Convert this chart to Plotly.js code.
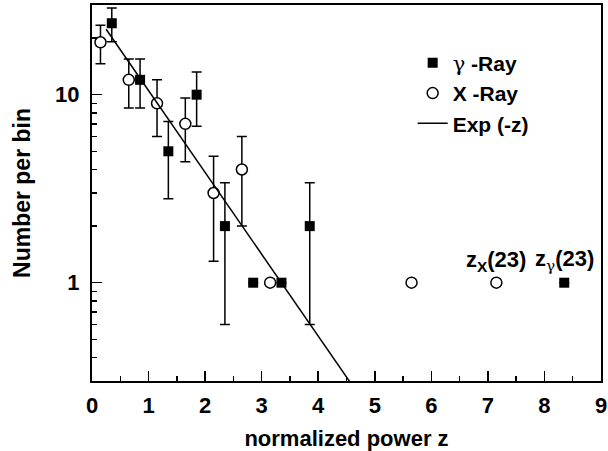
<!DOCTYPE html>
<html>
<head>
<meta charset="utf-8">
<script src="https://cdn.plot.ly/plotly-3.0.1.min.js"></script>
<style>html,body{margin:0;padding:0;background:#fff;}#chart{width:608px;height:451px;}</style>
</head>
<body>
<div id="chart"></div>
<script>
// gamma-ray counts per bin
const gammaZ = [0.35, 0.85, 1.35, 1.85, 2.35, 2.85, 3.35, 3.85, 8.35];
const gammaN = [24, 12, 5, 10, 2, 1, 1, 2, 1];
const gammaErr = [4.9, 3.5, 2.2, 3.2, 1.4, 0, 0, 1.4, 0];
// X-ray counts per bin
const xrayZ = [0.15, 0.65, 1.15, 1.65, 2.15, 2.65, 3.15, 5.65, 7.15];
const xrayN = [19, 12, 9, 7, 3, 4, 1, 1, 1];
const xrayErr = [4.4, 3.5, 3.0, 2.6, 1.7, 2.0, 0, 0, 0];
// Exp(-z) reference line endpoints
const expZ = [0.25, 4.6];
const expN = [22.3, 0.285];
// labels
const xTicks = [0, 1, 2, 3, 4, 5, 6, 7, 8, 9];
const yTicks = [1, 10];
const yMinor = [0.3, 0.4, 0.5, 0.6, 0.7, 0.8, 0.9, 2, 3, 4, 5, 6, 7, 8, 9, 20, 30];
const annZ = [7.15, 8.35];
const annN = [1, 1];
const GAM = '<span style="font-family:DejaVu Serif;font-weight:normal">γ</span>';
const annText = ['z<sub>X</sub>(23)', 'z<sub>' + GAM + '</sub>(23)'];
const seriesNames = [GAM + ' -Ray', 'X -Ray', 'Exp (-z)'];

const FONT = 'Liberation Sans, Arial, Helvetica, sans-serif';

const traces = [
  {
    x: gammaZ, y: gammaN, type: 'scatter', mode: 'markers', name: seriesNames[0],
    marker: {symbol: 'square', size: 10, color: '#000', line: {width: 0}},
    error_y: {type: 'data', array: gammaErr, visible: true, color: '#000', thickness: 1.5, width: 5}
  },
  {
    x: xrayZ, y: xrayN, type: 'scatter', mode: 'markers', name: seriesNames[1],
    marker: {symbol: 'circle', size: 11, color: '#fff', line: {width: 1.5, color: '#000'}},
    error_y: {type: 'data', array: xrayErr, visible: true, color: '#000', thickness: 1.5, width: 5}
  },
  {
    x: expZ, y: expN, type: 'scatter', mode: 'lines', name: seriesNames[2],
    line: {color: '#000', width: 1.5}
  }
];

const layout = {
  width: 608, height: 451,
  margin: {l: 92, r: 7, t: 5, b: 70},
  paper_bgcolor: '#fff', plot_bgcolor: '#fff',
  font: {family: FONT, color: '#000', size: 20, weight: 'bold'},
  showlegend: true,
  legend: {
    x: 0.63, y: 0.9, xanchor: 'left', yanchor: 'top',
    bgcolor: 'rgba(0,0,0,0)', borderwidth: 0,
    font: {family: FONT, size: 21, color: '#000', weight: 'bold'},
    tracegroupgap: 0
  },
  xaxis: {
    range: [0, 9], tickvals: xTicks, ticktext: xTicks.map(String),
    ticks: 'inside', ticklen: 10, tickwidth: 1.5, tickcolor: '#000',
    showline: true, linewidth: 2, linecolor: '#000', mirror: true,
    showgrid: false, zeroline: false,
    tickfont: {family: FONT, size: 22, weight: 'bold'},
    ticklabelstandoff: 4,
    minor: {dtick: 0.5, ticks: 'inside', ticklen: 5, tickwidth: 1.5, tickcolor: '#000', showgrid: false},
    title: {text: 'normalized power z', font: {family: FONT, size: 22, weight: 'bold'}, standoff: 14}
  },
  yaxis: {
    type: 'log', range: [Math.log10(0.3), Math.log10(30)],
    tickvals: yTicks, ticktext: yTicks.map(String),
    ticks: 'inside', ticklen: 10, tickwidth: 1.5, tickcolor: '#000',
    showline: true, linewidth: 2, linecolor: '#000', mirror: true,
    showgrid: false, zeroline: false,
    tickfont: {family: FONT, size: 22, weight: 'bold'},
    ticklabelstandoff: 6,
    minor: {tickvals: yMinor, ticks: 'inside', ticklen: 5, tickwidth: 1.5, tickcolor: '#000', showgrid: false},
    title: {text: 'Number per bin', font: {family: FONT, size: 23, weight: 'bold'}, standoff: 18}
  },
  annotations: annZ.map((z, i) => ({
    x: z, y: Math.log10(annN[i]), xref: 'x', yref: 'y',
    text: annText[i], showarrow: false, yanchor: 'bottom', yshift: 6,
    font: {family: FONT, size: 22, color: '#000', weight: 'bold'}
  }))
};

Plotly.newPlot('chart', traces, layout, {displayModeBar: false, staticPlot: true});
</script>
</body>
</html>
